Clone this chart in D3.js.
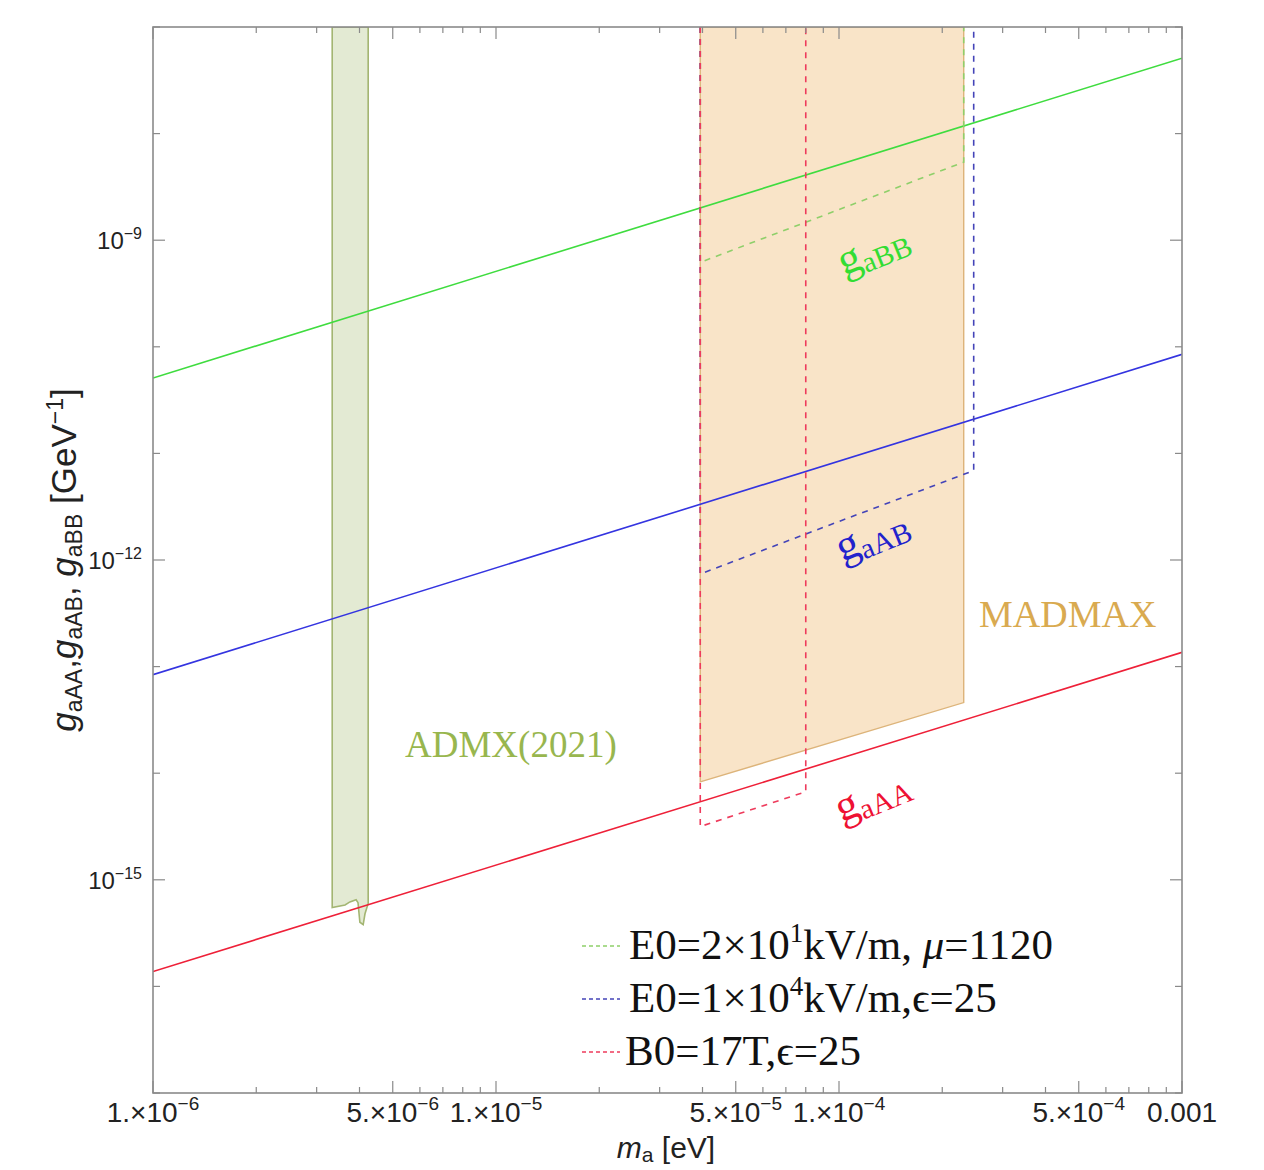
<!DOCTYPE html>
<html>
<head>
<meta charset="utf-8">
<script src="https://cdn.jsdelivr.net/npm/d3@7"></script>
<style>
  body { margin: 0; background: #fff; }
  svg { display: block; }
</style>
</head>
<body>
<div id="graph"></div>
<script>
const w = 1264;
const h = 1170;
const padLeft = 153, padRight = 1182, padTop = 27, padBottom = 1093;

// coupling lines (straight in log-log), values at the ends of the mass range
const massRange = [1e-6, 1e-3];
const gaAA = [1.38e-16, 1.36e-13];
const gaAB = [8.4e-14, 8.5e-11];
const gaBB = [5.1e-11, 5.1e-8];

// ADMX(2021) excluded band: lower edge
const admxMass  = [3.33e-6, 3.63e-6, 3.75e-6, 3.91e-6, 3.96e-6, 4.01e-6, 4.10e-6, 4.15e-6, 4.24e-6];
const admxFloor = [5.5e-16, 5.8e-16, 6.2e-16, 6.5e-16, 6.1e-16, 4.0e-16, 3.8e-16, 4.8e-16, 6.0e-16];

// MADMAX projected region
const madmaxMass  = [3.94e-5, 2.31e-4];
const madmaxFloor = [8.3e-15, 4.6e-14];

// dashed projections
const projections = [
  { name: 'E0=2×10¹kV/m, μ=1120', color: '#8fcf6a', mass: [3.94e-5, 2.31e-4], floor: [6.2e-10, 5.4e-9] },
  { name: 'E0=1×10⁴kV/m,ϵ=25',   color: '#4444b8', mass: [3.94e-5, 2.47e-4], floor: [7.4e-13, 6.9e-12] },
  { name: 'B0=17T,ϵ=25',          color: '#ee3b5c', mass: [3.94e-5, 8.0e-5],  floor: [3.16e-15, 6.7e-15] }
];

const xTicks = [1e-6, 5e-6, 1e-5, 5e-5, 1e-4, 5e-4, 1e-3];
const xTickLabels = [['1.×10', '−6'], ['5.×10', '−6'], ['1.×10', '−5'], ['5.×10', '−5'], ['1.×10', '−4'], ['5.×10', '−4'], ['0.001', '']];
const yTicks = [1e-9, 1e-12, 1e-15];
const yTickLabels = ['−9', '−12', '−15'];

const x = d3.scaleLog().domain(massRange).range([padLeft, padRight]);
const y = d3.scaleLog().domain([1e-17, 1e-7]).range([padBottom, padTop]);
const yTop = 1e-7;

const svg = d3.select('#graph')
  .append('svg')
  .attr('width', w)
  .attr('height', h);

svg.append('defs').append('clipPath').attr('id', 'plot')
  .append('rect').attr('x', padLeft).attr('y', padTop)
  .attr('width', padRight - padLeft).attr('height', padBottom - padTop);

const plot = svg.append('g').attr('clip-path', 'url(#plot)');
const line = d3.line().x(d => x(d[0])).y(d => y(d[1]));

// ADMX band
const admxPts = [[admxMass[0], yTop]]
  .concat(admxMass.map((m, i) => [m, admxFloor[i]]))
  .concat([[admxMass[admxMass.length - 1], yTop]]);
plot.append('path')
  .attr('d', line(admxPts) + 'Z')
  .attr('fill', '#e3ead3')
  .attr('stroke', '#a3b572')
  .attr('stroke-width', 1.6);

// MADMAX region
const madPts = [[madmaxMass[0], yTop], [madmaxMass[0], madmaxFloor[0]],
                [madmaxMass[1], madmaxFloor[1]], [madmaxMass[1], yTop]];
plot.append('path')
  .attr('d', line(madPts) + 'Z')
  .attr('fill', '#f9e4c8')
  .attr('stroke', '#ddb47a')
  .attr('stroke-width', 1.4);

// solid coupling lines
[[gaBB, '#3fdc3f'], [gaAB, '#3434e0'], [gaAA, '#ee2038']].forEach(([g, c]) => {
  plot.append('path')
    .attr('d', line([[massRange[0], g[0]], [massRange[1], g[1]]]))
    .attr('fill', 'none')
    .attr('stroke', c)
    .attr('stroke-width', 1.6);
});

// dashed projections
projections.forEach(p => {
  const pts = [[p.mass[0], yTop], [p.mass[0], p.floor[0]], [p.mass[1], p.floor[1]], [p.mass[1], yTop]];
  plot.append('path')
    .attr('d', line(pts))
    .attr('fill', 'none')
    .attr('stroke', p.color)
    .attr('stroke-width', 1.6)
    .attr('stroke-dasharray', '6,6');
});

// region labels
svg.append('text').attr('x', 405).attr('y', 757)
  .style('font-family', 'Liberation Serif, Times New Roman, serif')
  .style('font-size', '37px').attr('fill', '#98b64e')
  .text('ADMX(2021)');
svg.append('text').attr('x', 979).attr('y', 627)
  .style('font-family', 'Liberation Serif, Times New Roman, serif')
  .style('font-size', '38px').attr('fill', '#d9aa50')
  .text('MADMAX');

// line labels
const lineLabels = [['aBB', '#33dd33', 878, 262], ['aAB', '#2222cc', 877, 548], ['aAA', '#ee1133', 877, 808]];
lineLabels.forEach(([sub, c, lx, ly]) => {
  const t = svg.append('text')
    .attr('transform', 'translate(' + lx + ',' + ly + ') rotate(-22)')
    .attr('text-anchor', 'middle')
    .style('font-family', 'Liberation Serif, Times New Roman, serif')
    .style('font-size', '44px')
    .attr('fill', c);
  t.append('tspan').text('g');
  t.append('tspan').attr('dy', 6).style('font-size', '29px').text(sub);
});

// frame
svg.append('rect')
  .attr('x', padLeft).attr('y', padTop)
  .attr('width', padRight - padLeft).attr('height', padBottom - padTop)
  .attr('fill', 'none').attr('stroke', '#8a8a8a').attr('stroke-width', 1.6);

// x ticks (bottom and top, inward)
const xMinor = [];
for (let e = -6; e <= -4; e++) for (let k = 1; k <= 9; k++) xMinor.push(k * Math.pow(10, e));
xMinor.push(1e-3);
const tickG = svg.append('g').attr('stroke', '#8a8a8a').attr('stroke-width', 1.2);
xMinor.forEach(v => {
  const major = xTicks.some(t => Math.abs(t / v - 1) < 1e-6);
  const len = major ? 12 : 6;
  tickG.append('line').attr('x1', x(v)).attr('x2', x(v)).attr('y1', padBottom).attr('y2', padBottom - len);
  tickG.append('line').attr('x1', x(v)).attr('x2', x(v)).attr('y1', padTop).attr('y2', padTop + len);
});

// y ticks (left and right, inward) every decade
for (let e = -17; e <= -7; e++) {
  const v = Math.pow(10, e);
  const len = (e % 3 === 0) ? 12 : 7;
  tickG.append('line').attr('x1', padLeft).attr('x2', padLeft + len).attr('y1', y(v)).attr('y2', y(v));
  tickG.append('line').attr('x1', padRight).attr('x2', padRight - len).attr('y1', y(v)).attr('y2', y(v));
}

// x tick labels
xTicks.forEach((v, i) => {
  const t = svg.append('text')
    .attr('x', x(v)).attr('y', 1122)
    .attr('text-anchor', 'middle')
    .style('font-family', 'Liberation Sans, Arial, sans-serif')
    .style('font-size', '28px')
    .attr('fill', '#222');
  t.append('tspan').text(xTickLabels[i][0]);
  if (xTickLabels[i][1]) t.append('tspan').attr('dy', -12).style('font-size', '19px').text(xTickLabels[i][1]);
});

// y tick labels
yTicks.forEach((v, i) => {
  const t = svg.append('text')
    .attr('x', 142).attr('y', y(v) + 9)
    .attr('text-anchor', 'end')
    .style('font-family', 'Liberation Sans, Arial, sans-serif')
    .style('font-size', '24px')
    .attr('fill', '#222');
  t.append('tspan').text('10');
  t.append('tspan').attr('dy', -10).style('font-size', '16px').text(yTickLabels[i]);
});

// axis labels
const xl = svg.append('text')
  .attr('x', 666).attr('y', 1158)
  .attr('text-anchor', 'middle')
  .style('font-family', 'Liberation Sans, Arial, sans-serif')
  .style('font-size', '30px').attr('fill', '#222');
xl.append('tspan').style('font-style', 'italic').text('m');
xl.append('tspan').attr('dy', 4).style('font-size', '21px').text('a');
xl.append('tspan').attr('dy', -4).text(' [eV]');

const yl = svg.append('text')
  .attr('transform', 'translate(76,560) rotate(-90)')
  .attr('text-anchor', 'middle')
  .style('font-family', 'Liberation Sans, Arial, sans-serif')
  .style('font-size', '35px').attr('fill', '#222');
[['g', 'aAA', ','], ['g', 'aAB', ', '], ['g', 'aBB', ' [GeV']].forEach(([g, sub, after]) => {
  yl.append('tspan').style('font-style', 'italic').text(g);
  yl.append('tspan').attr('dy', 6).style('font-size', '23px').text(sub);
  yl.append('tspan').attr('dy', -6).text(after);
});
yl.append('tspan').attr('dy', -13).style('font-size', '23px').text('−1');
yl.append('tspan').attr('dy', 13).text(']');

// legend
const legendRows = [
  { parts: [['E0=2×10', 0], ['1', 1], ['kV/m, ', 0], ['μ', 2], ['=1120', 0]] },
  { parts: [['E0=1×10', 0], ['4', 1], ['kV/m,ϵ=25', 0]] },
  { parts: [['B0=17T,ϵ=25', 0]] }
];
const legend = svg.append('g');
projections.forEach((p, i) => {
  const ly = 949 + i * 53;
  legend.append('line')
    .attr('x1', 582).attr('x2', 620).attr('y1', ly - 3).attr('y2', ly - 3)
    .attr('stroke', p.color).attr('stroke-width', 1.4)
    .attr('stroke-dasharray', '4,3');
  const t = legend.append('text')
    .attr('x', i === 2 ? 625 : 629).attr('y', ly + 10)
    .style('font-family', 'Liberation Serif, Times New Roman, serif')
    .style('font-size', '43px').attr('fill', '#111');
  let raised = false;
  legendRows[i].parts.forEach(([s, kind]) => {
    const ts = t.append('tspan').text(s);
    if (kind === 1) { ts.attr('dy', -17).style('font-size', '27px'); raised = true; }
    else if (raised) { ts.attr('dy', 17); raised = false; }
    if (kind === 2) ts.style('font-style', 'italic');
  });
});
</script>
</body>
</html>
